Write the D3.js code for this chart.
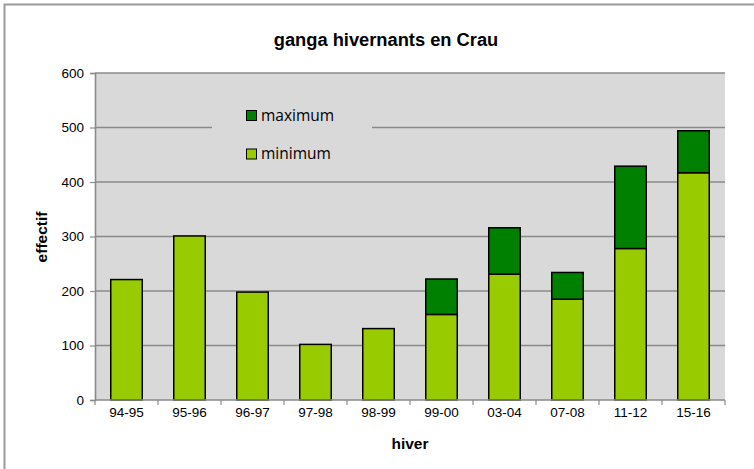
<!DOCTYPE html>
<html><head><meta charset="utf-8">
<script src="https://cdn.jsdelivr.net/npm/d3@7"></script>
<style>body{margin:0;background:#fff}svg{display:block}</style>
</head><body>
<svg id="c" width="754" height="469"></svg>
<script>
const categories = ["94-95","95-96","96-97","97-98","98-99","99-00","03-04","07-08","11-12","15-16"];
const minimum = [221,301,198,102,131,157,231,185,278,417];
const maximum = [221,301,198,102,131,222,316,234,429,494];
const yTicks = [0,100,200,300,400,500,600];
const title = "ganga hivernants en Crau";
const xTitle = "hiver";
const yTitle = "effectif";
const seriesNames = ["maximum","minimum"];
const colors = {minimum:"#99cc00", maximum:"#008000"};

const svg = d3.select("#c");
const font = "'Liberation Sans', Arial, sans-serif";
const m = {l:95, r:725, t:73, b:400};

// outer frame
svg.append("rect").attr("x",4.5).attr("y",4.5).attr("width",760).attr("height",480)
  .attr("fill","#fff").attr("stroke","#9a9a9a").attr("stroke-width",2);

const x = d3.scaleBand().domain(categories).range([m.l,m.r]).paddingInner(0.5).paddingOuter(0.25);
const xb = d3.scaleBand().domain(categories).range([m.l,m.r]);
const y = d3.scaleLinear().domain([0,600]).range([m.b,m.t]);

svg.append("rect").attr("x",m.l).attr("y",m.t).attr("width",m.r-m.l).attr("height",m.b-m.t).attr("fill","#d9d9d9");

// gridlines
svg.append("g").selectAll("line").data(yTicks.filter(d=>d>0)).join("line")
  .attr("x1",m.l).attr("x2",m.r).attr("y1",d=>y(d)).attr("y2",d=>y(d))
  .attr("stroke","#8a8a8a").attr("stroke-width",1.6);

// legend (covers gridline)
const lg = svg.append("g");
lg.append("rect").attr("x",212).attr("y",100).attr("width",160).attr("height",70).attr("fill","#d9d9d9");
seriesNames.forEach((s,i)=>{
  const yy = 110 + i*38.5;
  lg.append("rect").attr("x",246.5).attr("y",yy+0.5).attr("width",10).attr("height",10)
    .attr("fill",colors[s]).attr("stroke","#000").attr("stroke-width",1);
  lg.append("text").attr("x",261).attr("y",yy+5.5).attr("dy","0.35em")
    .attr("font-family","'Open Sans', sans-serif").attr("font-size",15.5).attr("fill","#000").text(s);
});

// bars
const g = svg.append("g");
g.selectAll("rect.min").data(categories).join("rect").attr("class","min")
  .attr("x",d=>x(d)).attr("width",x.bandwidth())
  .attr("y",(d,i)=>y(minimum[i])).attr("height",(d,i)=>y(0)-y(minimum[i]))
  .attr("fill",colors.minimum).attr("stroke","#000").attr("stroke-width",1.5);
g.selectAll("rect.max").data(categories.filter((d,i)=>maximum[i]>minimum[i])).join("rect").attr("class","max")
  .attr("x",d=>x(d)).attr("width",x.bandwidth())
  .attr("y",d=>y(maximum[categories.indexOf(d)]))
  .attr("height",d=>{const i=categories.indexOf(d);return y(minimum[i])-y(maximum[i]);})
  .attr("fill",colors.maximum).attr("stroke","#000").attr("stroke-width",1.5);

// y axis
const ya = svg.append("g").attr("transform",`translate(${m.l},0)`)
  .call(d3.axisLeft(y).tickValues(yTicks).tickSize(5).tickPadding(6));
ya.select(".domain").attr("stroke","#8a8a8a").attr("stroke-width",1.6);
ya.selectAll(".tick line").attr("stroke","#8a8a8a").attr("stroke-width",1.2);
ya.selectAll("text").attr("font-family",font).attr("font-size",13.5).attr("fill","#000");

// x axis
const xa = svg.append("g").attr("transform",`translate(0,${m.b})`)
  .call(d3.axisBottom(xb).tickSize(0).tickPadding(7));
xa.select(".domain").remove();
xa.append("line").attr("x1",m.l).attr("x2",m.r).attr("stroke","#8a8a8a").attr("stroke-width",1.6);
xa.selectAll(".bt").data(d3.range(categories.length+1)).join("line").attr("class","bt")
  .attr("x1",i=>m.l+i*xb.step()).attr("x2",i=>m.l+i*xb.step()).attr("y1",0).attr("y2",5)
  .attr("stroke","#8a8a8a").attr("stroke-width",1.2);
xa.selectAll("text").attr("font-family",font).attr("font-size",13.5).attr("fill","#000");

// titles
svg.append("text").attr("x",386).attr("y",46).attr("text-anchor","middle")
  .attr("font-family",font).attr("font-weight","bold").attr("font-size",18.3).text(title);
svg.append("text").attr("x",410).attr("y",449).attr("text-anchor","middle")
  .attr("font-family",font).attr("font-weight","bold").attr("font-size",15.5).text(xTitle);
svg.append("text").attr("transform","translate(47,237) rotate(-90)").attr("text-anchor","middle")
  .attr("font-family",font).attr("font-weight","bold").attr("font-size",15.5).text(yTitle);
</script>
</body></html>
